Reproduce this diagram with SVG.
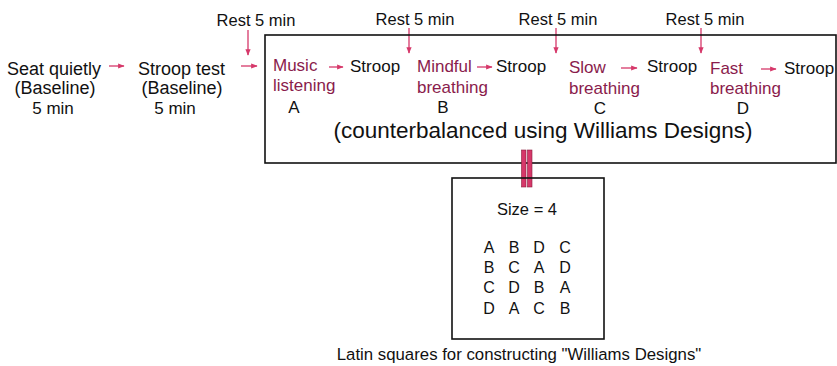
<svg xmlns="http://www.w3.org/2000/svg" width="837" height="366" viewBox="0 0 837 366">
<defs>
<style>
text{font-family:"Liberation Sans",Arial,sans-serif;fill:#111}
.t{font-size:18px}
.s{font-size:17px}
.m{font-size:17px;fill:#8a1c4c}
.r{font-size:16.5px}
.big{font-size:22.5px}
.sq{font-size:16px;text-anchor:middle}
.c{text-anchor:middle}
.box{fill:none;stroke:#111;stroke-width:1.6}
.ar{stroke:#d6386a;stroke-width:1.3;fill:none;marker-end:url(#ah)}
</style>
<marker id="ah" viewBox="0 0 10 10" refX="9" refY="5" markerWidth="5" markerHeight="5" markerUnits="strokeWidth" orient="auto">
<path d="M0,1 L10,5 L0,9 z" fill="#d6386a"/>
</marker>
</defs>
<rect width="837" height="366" fill="#fff"/>
<g id="connectors">
<line class="ar" x1="109" y1="66" x2="124" y2="66"/>
<line class="ar" x1="241" y1="66" x2="257" y2="66"/>
<line class="ar" x1="248" y1="30" x2="248" y2="55"/>
<line class="ar" x1="329" y1="67" x2="343" y2="67"/>
<line class="ar" x1="409" y1="28" x2="409" y2="53"/>
<line class="ar" x1="477" y1="67" x2="492" y2="67"/>
<line class="ar" x1="556" y1="28" x2="556" y2="53"/>
<line class="ar" x1="621" y1="68" x2="637" y2="68"/>
<line class="ar" x1="701" y1="28" x2="701" y2="53"/>
<line class="ar" x1="761" y1="69" x2="776" y2="69"/>
</g>
<g id="seat">
<text class="t" x="7" y="75">Seat quietly</text>
<text class="t c" x="55" y="94">(Baseline)</text>
<text class="s c" x="53" y="113.5">5 min</text>
</g>
<g id="stroop-baseline">
<text class="t" x="138" y="75">Stroop test</text>
<text class="t c" x="182" y="94">(Baseline)</text>
<text class="s c" x="175" y="114">5 min</text>
</g>
<g id="rests">
<text class="r c" x="256" y="26">Rest 5 min</text>
<text class="r c" x="415" y="25">Rest 5 min</text>
<text class="r c" x="558" y="25">Rest 5 min</text>
<text class="r c" x="705" y="25">Rest 5 min</text>
</g>
<g id="sessions">
<rect class="box" x="265" y="35" width="571" height="128"/>
<text class="m" x="273" y="71">Music</text>
<text class="m" x="273" y="91">listening</text>
<text class="s c" x="294" y="113">A</text>
<text class="s" x="350" y="72">Stroop</text>
<text class="m" x="417" y="72">Mindful</text>
<text class="m" x="417" y="93">breathing</text>
<text class="s c" x="443" y="113">B</text>
<text class="s" x="496" y="72">Stroop</text>
<text class="m" x="569" y="73">Slow</text>
<text class="m" x="569" y="94">breathing</text>
<text class="s c" x="600" y="114">C</text>
<text class="s" x="647" y="72">Stroop</text>
<text class="m" x="710" y="74">Fast</text>
<text class="m" x="710" y="94">breathing</text>
<text class="s c" x="743" y="114">D</text>
<text class="s" x="784" y="74">Stroop</text>
<text class="big c" x="543" y="138">(counterbalanced using Williams Designs)</text>
</g>
<g id="link">
<rect x="521.5" y="150" width="4.5" height="37" fill="#d6386a" stroke="#8a1c3c" stroke-width="0.6"/>
<rect x="527.5" y="150" width="4.5" height="37" fill="#d6386a" stroke="#8a1c3c" stroke-width="0.6"/>
</g>
<g id="latin-square">
<rect class="box" x="452" y="178" width="152" height="161"/>
<text class="c" x="527" y="215" style="font-size:16.5px">Size = 4</text>
<text class="sq" y="253"><tspan x="489">A</tspan><tspan x="514">B</tspan><tspan x="539">D</tspan><tspan x="565">C</tspan></text>
<text class="sq" y="273"><tspan x="489">B</tspan><tspan x="514">C</tspan><tspan x="539">A</tspan><tspan x="565">D</tspan></text>
<text class="sq" y="293"><tspan x="489">C</tspan><tspan x="514">D</tspan><tspan x="539">B</tspan><tspan x="565">A</tspan></text>
<text class="sq" y="314"><tspan x="489">D</tspan><tspan x="514">A</tspan><tspan x="539">C</tspan><tspan x="565">B</tspan></text>
</g>
<text class="c" x="519" y="360" style="font-size:16.8px">Latin squares for constructing "Williams Designs"</text>
</svg>
